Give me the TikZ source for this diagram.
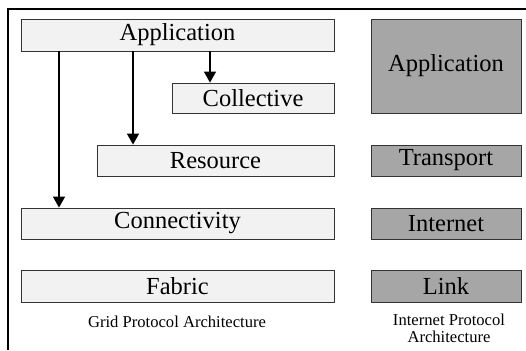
\documentclass[tikz,border=0pt]{standalone}
\usepackage{fontspec}
\setmainfont{Liberation Serif}
\usetikzlibrary{arrows.meta}
\definecolor{gridfill}{HTML}{F2F2F2}
\definecolor{ipfill}{HTML}{A6A6A6}
\definecolor{edge}{HTML}{333333}
\tikzset{
  layer/.style={draw=edge, line width=0.8pt, inner sep=0pt, anchor=center,
    font=\fontsize{24.5}{28}\selectfont},
  gridlayer/.style={layer, fill=gridfill},
  iplayer/.style={layer, fill=ipfill, minimum width=150pt},
  caption/.style={font=\fontsize{16.6}{17}\selectfont, align=center, inner sep=0pt},
  uses/.style={line width=1.3pt, -{Triangle[width=12pt,length=11pt]}},
  frame/.style={line width=1.5pt}
}
\begin{document}
\begin{tikzpicture}[x=1pt, y=-1pt]
  \useasboundingbox (0,0) rectangle (526,350);
  \fill[white] (0,0) rectangle (526,350);
  % outer frame (top and left edges)
  \coordinate (ftl) at (8,9);
  \coordinate (ftr) at (526,9);
  \coordinate (fbl) at (8,350);
  \draw[frame] (ftr) -- (ftl) -- (fbl);

  % grid protocol stack
  \node[gridlayer, minimum width=313pt, minimum height=32pt] (app) at (177.5,35) {Application};
  \node[gridlayer, minimum width=162pt, minimum height=30pt] (coll) at (253,98) {Collective};
  \node[gridlayer, minimum width=237pt, minimum height=31pt] (res) at (215.5,160.5) {Resource};
  \node[gridlayer, minimum width=313pt, minimum height=31pt] (conn) at (177.5,223.5) {Connectivity};
  \node[gridlayer, minimum width=313pt, minimum height=32pt] (fab) at (177.5,286) {Fabric};

  % internet protocol stack
  \node[iplayer, minimum height=94pt] (ipapp) at (446,66) {Application};
  \node[iplayer, minimum height=31pt] (trans) at (446,160.5) {Transport};
  \node[iplayer, minimum height=31pt] (inet) at (446,223.5) {Internet};
  \node[iplayer, minimum height=32pt] (link) at (446,286) {Link};

  % dependencies of the application layer
  \coordinate (xconn) at (59,0);
  \coordinate (xres) at (133,0);
  \coordinate (xcoll) at (210,0);
  \draw[uses] (app.south -| xconn) -- (conn.north -| xconn);
  \draw[uses] (app.south -| xres) -- (res.north -| xres);
  \draw[uses] (app.south -| xcoll) -- (coll.north -| xcoll);

  % captions
  \node[caption] (gridcap) at (177,322) {Grid Protocol Architecture};
  \node[caption] (ipcap) at (449,328.5) {Internet Protocol\\Architecture};
\end{tikzpicture}
\end{document}
